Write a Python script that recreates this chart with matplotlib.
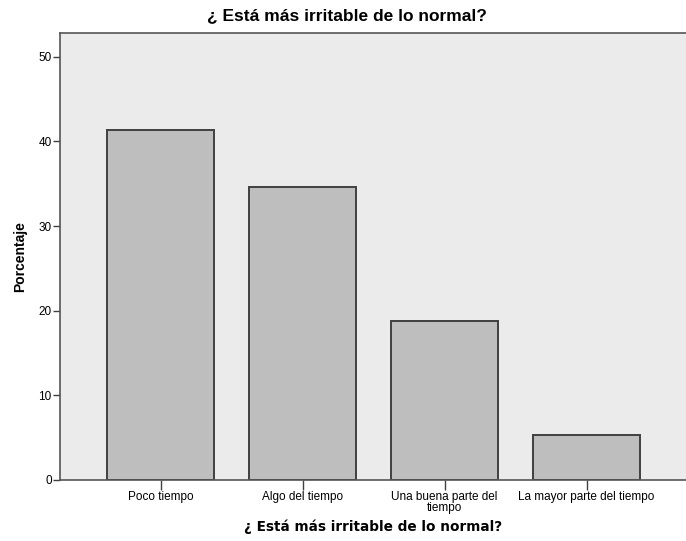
import matplotlib
matplotlib.use("Agg")
import matplotlib.pyplot as plt

categories = ["Poco tiempo", "Algo del tiempo", "Una buena parte del\ntiempo",
              "La mayor parte del tiempo"]
porcentaje = [41.3, 34.6, 18.8, 5.3]
yticks = [0, 10, 20, 30, 40, 50]

title = "¿ Está más irritable de lo normal?"

plt.rcParams["font.family"] = ["Liberation Sans", "DejaVu Sans"]

fig = plt.figure(figsize=(6.86, 5.41), dpi=100)
ax = fig.add_axes([60 / 686, 61 / 541, 626 / 686, 447 / 541])
ax.set_facecolor("#EBEBEB")

x = list(range(len(categories)))
ax.bar(x, porcentaje, width=0.755, color="#BEBEBE", edgecolor="#404040",
       linewidth=1.4, zorder=2)

ax.set_xlim(-0.71, 3.70)
ax.set_ylim(0, 52.8)
ax.set_yticks(yticks)
ax.set_xticks(x)
ax.set_xticklabels(categories, fontsize=8.5, linespacing=0.85)
ax.tick_params(axis="y", labelsize=8.5, length=5, width=1, color="#404040", pad=1)
ax.tick_params(axis="x", length=7, width=1, color="#404040", pad=1)

ax.spines["right"].set_visible(False)
for side in ["left", "top", "bottom"]:
    ax.spines[side].set_color("#555555")
    ax.spines[side].set_linewidth(1.2)

ax.set_ylabel("Porcentaje", fontsize=10, fontweight="bold", labelpad=8)
ax.set_xlabel(title, fontsize=9.8, fontweight="bold", family="DejaVu Sans",
              labelpad=4)
fig.text(0.5 * (203 + 490) / 686, 1 - 16 / 541, title, fontsize=12.5,
         fontweight="bold", ha="center", va="center")

fig.savefig("out.png", dpi=100)
